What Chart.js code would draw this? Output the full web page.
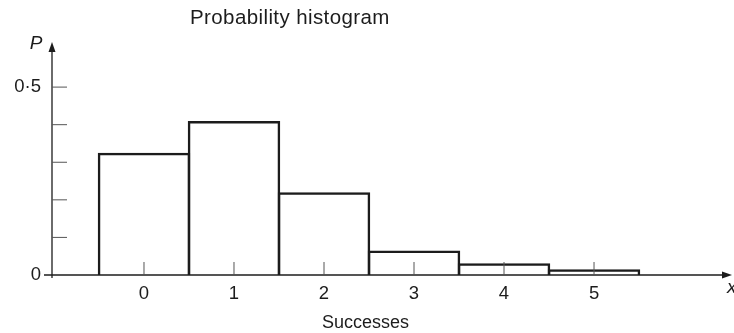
<!DOCTYPE html>
<html>
<head>
<meta charset="utf-8">
<script src="https://cdn.jsdelivr.net/npm/chart.js@4/dist/chart.umd.min.js"></script>
<style>
  html, body { margin: 0; padding: 0; background: #fff; }
  #wrap { width: 734px; height: 333px; }
</style>
</head>
<body>
<div id="wrap"><canvas id="hist" width="734" height="333"></canvas></div>
<script>
// data
var successes = [0, 1, 2, 3, 4, 5];
var probs = [0.325, 0.41, 0.22, 0.065, 0.031, 0.015];
var yTicks = [0, 0.1, 0.2, 0.3, 0.4, 0.5];
var yLabels = {0: "0", 0.5: "0·5"};

var ink = "#1c1c1c";
var font = "'Liberation Sans', Arial, sans-serif";

// axes, ticks and labels drawn by hand (book style)
var bookAxes = {
  id: "bookAxes",
  afterDatasetsDraw: function (chart) {
    var ctx = chart.ctx;
    var xs = chart.scales.x, ys = chart.scales.y;
    var a = chart.chartArea;
    var x0 = xs.getPixelForValue(xs.min);
    var y0 = ys.getPixelForValue(0);
    ctx.save();
    ctx.strokeStyle = ink;
    ctx.fillStyle = ink;
    ctx.lineWidth = 1.3;

    // y axis + arrow
    ctx.beginPath();
    ctx.moveTo(x0, y0 + 3);
    ctx.lineTo(x0, a.top + 6);
    ctx.stroke();
    ctx.beginPath();
    ctx.moveTo(x0, a.top);
    ctx.lineTo(x0 - 3.5, a.top + 10);
    ctx.lineTo(x0 + 3.5, a.top + 10);
    ctx.closePath();
    ctx.fill();

    // x axis + arrow
    ctx.beginPath();
    ctx.moveTo(x0 - 8, y0);
    ctx.lineTo(a.right - 6, y0);
    ctx.stroke();
    ctx.beginPath();
    ctx.moveTo(a.right, y0);
    ctx.lineTo(a.right - 10, y0 - 3.5);
    ctx.lineTo(a.right - 10, y0 + 3.5);
    ctx.closePath();
    ctx.fill();

    // y tick marks (inside)
    ctx.lineWidth = 1;
    ctx.strokeStyle = "#555";
    yTicks.forEach(function (v) {
      if (v === 0) return;
      var py = ys.getPixelForValue(v);
      ctx.beginPath();
      ctx.moveTo(x0, py);
      ctx.lineTo(x0 + 15, py);
      ctx.stroke();
    });
    // x tick marks (up into the bars)
    successes.forEach(function (v) {
      var px = xs.getPixelForValue(v);
      ctx.beginPath();
      ctx.moveTo(px, y0);
      ctx.lineTo(px, y0 - 13);
      ctx.stroke();
    });

    // tick labels
    ctx.fillStyle = ink;
    ctx.font = "18.5px " + font;
    ctx.textBaseline = "middle";
    ctx.textAlign = "right";
    Object.keys(yLabels).forEach(function (k) {
      ctx.fillText(yLabels[k], x0 - 11, ys.getPixelForValue(+k));
    });
    ctx.textAlign = "center";
    successes.forEach(function (v) {
      ctx.fillText(String(v), xs.getPixelForValue(v), y0 + 19);
    });

    // axis titles
    ctx.font = "18px " + font;
    ctx.fillText("Successes", xs.getPixelForValue(2.46), y0 + 48);
    ctx.font = "italic 19px " + font;
    ctx.fillText("P", x0 - 16, a.top + 2);
    ctx.textAlign = "left";
    ctx.fillText("x", a.right - 5, y0 + 13);

    // title
    ctx.font = "20.5px " + font;
    ctx.letterSpacing = "0.4px";
    ctx.fillText("Probability histogram", x0 + 138, 18.5);
    ctx.restore();
  }
};

new Chart(document.getElementById("hist"), {
  type: "bar",
  data: {
    datasets: [{
      data: successes.map(function (s, i) { return {x: s, y: probs[i]}; }),
      backgroundColor: "rgba(255,255,255,0)",
      borderColor: ink,
      borderWidth: 2.5,
      borderSkipped: "start",
      barPercentage: 92.5 / 90,
      categoryPercentage: 1
    }]
  },
  options: {
    responsive: false,
    animation: false,
    layout: { padding: { left: 52, right: 2, top: 42, bottom: 58 } },
    plugins: { legend: { display: false }, tooltip: { enabled: false } },
    scales: {
      x: {
        type: "linear",
        display: false,
        offset: false,
        grid: { offset: false },
        min: -1.022,
        max: 6.533,
        afterBuildTicks: function (scale) {
          scale.ticks = successes.map(function (v) { return {value: v}; });
        }
      },
      y: {
        display: false,
        min: 0,
        max: 0.62,
        afterBuildTicks: function (scale) {
          scale.ticks = yTicks.map(function (v) { return {value: v}; });
        }
      }
    }
  },
  plugins: [bookAxes]
});
</script>
</body>
</html>
